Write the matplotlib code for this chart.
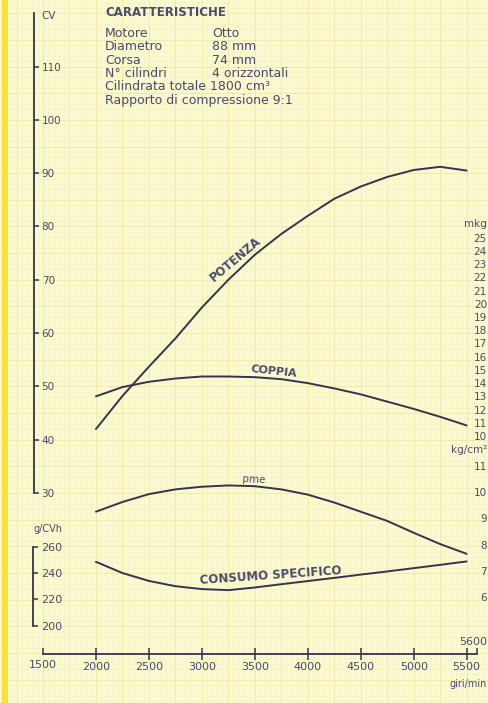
import matplotlib
matplotlib.use("Agg")
import matplotlib.pyplot as plt
import matplotlib.transforms as mtransforms
from matplotlib.ticker import MultipleLocator, FixedLocator, FixedFormatter

# ---- engine curves (giri/min) ----
rpm = [2000, 2250, 2500, 2750, 3000, 3250, 3500, 3750,
       4000, 4250, 4500, 4750, 5000, 5250, 5500]
potenza_cv = [42.0, 48.2, 53.7, 59.0, 64.8, 70.0, 74.7, 78.6,
              82.0, 85.2, 87.5, 89.3, 90.6, 91.2, 90.5]
coppia_mkg = [13.0, 13.7, 14.1, 14.35, 14.5, 14.5, 14.45, 14.3,
              14.0, 13.6, 13.15, 12.6, 12.05, 11.45, 10.8]
pme_kgcm2 = [9.25, 9.62, 9.92, 10.1, 10.2, 10.25, 10.22, 10.1,
             9.9, 9.6, 9.25, 8.9, 8.45, 8.02, 7.65]
consumo_gcvh = [248.5, 240.0, 234.0, 230.0, 227.8, 227.0, 229.0, 231.5,
                233.9, 236.3, 238.8, 241.2, 243.7, 246.2, 248.8]

# ---- scales ----
rpm_ticks = [1500, 2000, 2500, 3000, 3500, 4000, 4500, 5000, 5500]
rpm_end = 5600
cv_ticks = [30, 40, 50, 60, 70, 80, 90, 100, 110]
cv_top = 120
consumo_ticks = [200, 220, 240, 260]
coppia_scale = [25, 24, 23, 22, 21, 20, 19, 18, 17, 16, 15, 14, 13, 12, 11, 10]
pme_scale = [11, 10, 9, 8, 7, 6]

specs = [("Motore", "Otto"), ("Diametro", "88 mm"), ("Corsa", "74 mm"),
         ("N\u00b0 cilindri", "4 orizzontali")]
specs_long = ["Cilindrata totale 1800 cm\u00b3", "Rapporto di compressione 9:1"]

# ---- page geometry (pixels) ----
W, H = 489, 703
PAPER = "#fbf9d0"
INK = "#34344e"
TXT = "#4a4a6c"
FONT = "DejaVu Sans"

px_per_rpm = 370.7 / 3500.0
x0_rpm = 1500 - 43.0 / px_per_rpm
x1_rpm = 1500 + (W - 43.0) / px_per_rpm


def ylims(value, px, px_per_unit):
    """Axis limits so that `value` sits at pixel row `px` (from the top)."""
    return (value - (H - px) / px_per_unit, value + px / px_per_unit)


fig = plt.figure(figsize=(W / 100, H / 100), dpi=100)
fig.patch.set_facecolor(PAPER)


def layer(z, ylim):
    a = fig.add_axes([0, 0, 1, 1], zorder=z)
    a.set_xlim(x0_rpm, x1_rpm)
    a.set_ylim(*ylim)
    a.patch.set_visible(False)
    for s in a.spines.values():
        s.set_visible(False)
    a.tick_params(which="both", length=0, labelleft=False, labelbottom=False)
    return a


cv_lim = ylims(30, 493, 5.33)

# graph paper
bg = layer(0, cv_lim)
bg.patch.set_visible(True)
bg.patch.set_facecolor(PAPER)
bg.xaxis.set_major_locator(MultipleLocator(250))
bg.xaxis.set_minor_locator(MultipleLocator(50))
bg.yaxis.set_major_locator(MultipleLocator(5))
bg.yaxis.set_minor_locator(MultipleLocator(1))
bg.grid(which="major", color="#f0eaa8", lw=0.7)
bg.grid(which="minor", color="#f6f2c4", lw=0.45)
bg.set_axisbelow(True)
bg.axvspan(x0_rpm + 2 / px_per_rpm, x0_rpm + 8 / px_per_rpm,
           color="#f3e33a", lw=0, zorder=3)

# ---- power (CV) axis + rpm axis ----
ax = layer(2, cv_lim)
ax.spines["left"].set_visible(True)
ax.spines["left"].set_position(("axes", 34 / W))
ax.spines["left"].set_bounds(30, cv_top)
ax.spines["left"].set_color(INK)
ax.spines["left"].set_linewidth(1.3)
ax.set_yticks(cv_ticks)
ax.set_yticklabels([str(v) for v in cv_ticks])
ax.tick_params(axis="y", direction="in", length=3.5, width=1.1, color=INK,
               labelleft=True, pad=-5.5, labelsize=7.5, labelcolor=TXT)
for t in ax.get_yticklabels():
    t.set_ha("left")
ax.text(34 / W + 7 / W, 119.4, "CV",
        transform=mtransforms.blended_transform_factory(ax.transAxes, ax.transData),
        ha="left", va="center", fontsize=7.5, color=TXT, family=FONT)

ax.spines["bottom"].set_visible(True)
ax.spines["bottom"].set_position(("axes", (H - 654) / H))
ax.spines["bottom"].set_bounds(rpm_ticks[0], rpm_end)
ax.spines["bottom"].set_color(INK)
ax.spines["bottom"].set_linewidth(1.3)
ax.xaxis.set_major_locator(FixedLocator(rpm_ticks[1:]))
ax.xaxis.set_major_formatter(FixedFormatter([str(v) for v in rpm_ticks[1:]]))
ax.xaxis.set_minor_locator(FixedLocator([rpm_ticks[0], rpm_end]))
ax.xaxis.set_minor_formatter(FixedFormatter([str(rpm_ticks[0]), ""]))
ax.tick_params(axis="x", which="major", direction="inout", length=8, width=1.1,
               color=INK, labelbottom=True, pad=1.5, labelsize=8, labelcolor=TXT)
ax.tick_params(axis="x", which="minor", direction="in", length=4, width=1.1,
               color=INK, labelbottom=True, pad=4.5, labelsize=8, labelcolor=TXT)
edge = mtransforms.blended_transform_factory(fig.transFigure, ax.transAxes)
ax.text(487 / W, (H - 642) / H, str(rpm_end), transform=edge, ha="right",
        va="center", fontsize=8, color=TXT, family=FONT)
ax.text(487 / W, (H - 684) / H, "giri/min", transform=edge,
        ha="right", va="center", fontsize=7, color=TXT, family=FONT)

ax.plot(rpm, potenza_cv, color=INK, lw=1.4, solid_capstyle="round")
ax.text(3313, 73.9, "POTENZA", rotation=40, rotation_mode="anchor",
        ha="center", va="center", fontsize=8.5, fontweight="bold", color=TXT, family=FONT)

# ---- torque (mkg) ----
axt = layer(3, ylims(10, 436, 13.22))
axt.plot(rpm, coppia_mkg, color=INK, lw=1.4, solid_capstyle="round")
axt.text(3681, 14.92, "COPPIA", rotation=-6, rotation_mode="anchor",
         ha="center", va="center", fontsize=8, fontweight="bold", color=TXT, family=FONT)
axt.yaxis.tick_right()
axt.set_yticks(coppia_scale)
axt.set_yticklabels([str(v) for v in coppia_scale])
axt.tick_params(axis="y", length=0, labelright=True, pad=-1.5, labelsize=7.5,
                labelcolor=TXT)
for t in axt.get_yticklabels():
    t.set_ha("right")
rtr = mtransforms.blended_transform_factory(axt.transAxes, axt.transData)
axt.text(487 / W, 26.0, "mkg", transform=rtr, ha="right", va="center",
         fontsize=7.5, color=TXT, family=FONT)

# ---- mean effective pressure (kg/cm2) ----
axp = layer(4, ylims(10, 492, 26.3))
axp.plot(rpm, pme_kgcm2, color=INK, lw=1.4, solid_capstyle="round")
axp.text(3492, 10.46, "pme", rotation=-3, rotation_mode="anchor",
         ha="center", va="center", fontsize=7.5, color=TXT, family=FONT)
axp.yaxis.tick_right()
axp.set_yticks(pme_scale)
axp.set_yticklabels([str(v) for v in pme_scale])
axp.tick_params(axis="y", length=0, labelright=True, pad=-1.5, labelsize=7.5,
                labelcolor=TXT)
for t in axp.get_yticklabels():
    t.set_ha("right")
ptr = mtransforms.blended_transform_factory(axp.transAxes, axp.transData)
axp.text(487 / W, 11.6, "kg/cm\u00b2", transform=ptr, ha="right", va="center",
         fontsize=7.5, color=TXT, family=FONT)

# ---- specific consumption (g/CVh) ----
axc = layer(5, ylims(200, 625.7, 1.317))
axc.plot(rpm, consumo_gcvh, color=INK, lw=1.4, solid_capstyle="round")
axc.text(3653, 237.7, "CONSUMO SPECIFICO", rotation=4, rotation_mode="anchor",
         ha="center", va="center", fontsize=8.5, fontweight="bold", color=TXT, family=FONT)
axc.spines["left"].set_visible(True)
axc.spines["left"].set_position(("axes", 33 / W))
axc.spines["left"].set_bounds(consumo_ticks[0], consumo_ticks[-1])
axc.spines["left"].set_color(INK)
axc.spines["left"].set_linewidth(1.3)
axc.set_yticks(consumo_ticks)
axc.set_yticklabels([str(v) for v in consumo_ticks])
axc.tick_params(axis="y", direction="in", length=3.5, width=1.1, color=INK,
                labelleft=True, pad=-5.5, labelsize=8, labelcolor=TXT)
for t in axc.get_yticklabels():
    t.set_ha("left")
ctr = mtransforms.blended_transform_factory(axc.transAxes, axc.transData)
axc.text(48 / W, 273.4, "g/CVh", transform=ctr, ha="center", va="center",
         fontsize=7, color=TXT, family=FONT)

# ---- specification block ----
fig.text(105 / W, 1 - 12.5 / H, "CARATTERISTICHE", ha="left", va="center",
         fontsize=8.5, fontweight="bold", color=TXT, family=FONT, zorder=10)
for i, (k, v) in enumerate(specs):
    y = 1 - (33.5 + i * 13.4) / H
    fig.text(105 / W, y, k, ha="left", va="center", fontsize=9, color=TXT, family=FONT)
    fig.text(212 / W, y, v, ha="left", va="center", fontsize=9, color=TXT, family=FONT)
for i, s in enumerate(specs_long):
    y = 1 - (87 + i * 13.4) / H
    fig.text(105 / W, y, s, ha="left", va="center", fontsize=9, color=TXT, family=FONT)

fig.savefig("out.png", dpi=100, facecolor=PAPER)
